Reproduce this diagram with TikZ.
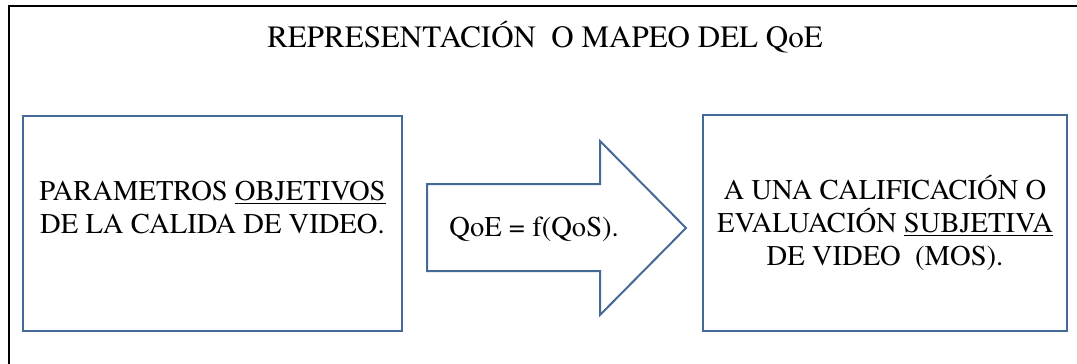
\documentclass[tikz,border=0pt]{standalone}
\usepackage{fontspec}
\setmainfont{texgyretermes}[
  Extension = .otf,
  UprightFont = *-regular,
  BoldFont = *-bold,
  ItalicFont = *-italic,
  BoldItalicFont = *-bolditalic]
\usepackage{tikz}
\usetikzlibrary{positioning}

\definecolor{boxblue}{HTML}{466A98}

\begin{document}
\begin{tikzpicture}[
            x = 0.5pt, y = -0.5pt, % one unit = one pixel
            font = \rmfamily\fontsize{14.3}{16.5}\selectfont,
            line join = miter
        ]

        \tikzstyle{box}=[
            draw = boxblue,
            line width = 1pt,
            inner sep = 0pt
        ]
        \tikzstyle{txt}=[
            align = center,
            inner sep = 0pt
        ]

        \useasboundingbox (0,0) rectangle (1077,364);

        % frame of the page
        \draw[line width = 1pt] (9,364) -- (9,6) -- (1077,6);

        \node[txt, anchor = base, font = \rmfamily\fontsize{15.5}{18}\selectfont] (title) at (545,47)
            {REPRESENTACIÓN\ \ O MAPEO DEL QoE};

        \node[box, minimum width = 189.5pt, minimum height = 107.5pt] (obj) at (212.5,223.5) {};
        \node[box, minimum width = 182pt, minimum height = 108pt] (subj) at (885,223) {};

        \node[txt, yshift = 8pt] (objtxt) at (obj) {PARAMETROS \underline{OBJETIVOS}\\DE LA CALIDA DE VIDEO.};
        \node[txt] (subjtxt) at (subj) {A UNA CALIFICACIÓN O\\EVALUACIÓN \underline{SUBJETIVA}\\DE VIDEO\ \ (MOS).};

        % big arrow between the boxes
        \draw[boxblue, line width = 1pt]
            (427,184) -- (600,184) -- (600,141) -- (686,228)
            -- (600,315) -- (600,271) -- (427,271) -- cycle;
        \node[txt, anchor = base west] (map) at (449,236) {QoE = f(QoS).};

  \end{tikzpicture}
\end{document}
